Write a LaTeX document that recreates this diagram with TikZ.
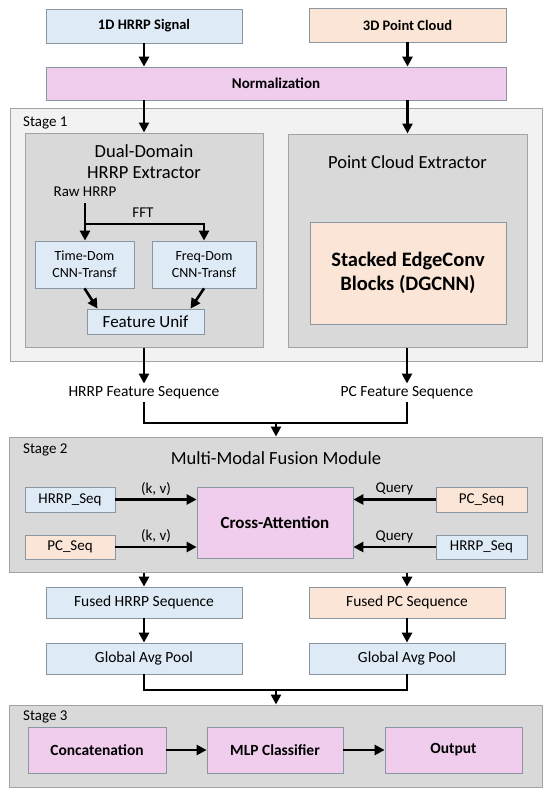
\documentclass[tikz,border=0pt]{standalone}
\usepackage{fontspec}
\setmainfont{Carlito}
\usetikzlibrary{arrows.meta,calc}
\definecolor{cblue}{HTML}{DEEBF7}
\definecolor{cpeach}{HTML}{FBE5D6}
\definecolor{cpink}{HTML}{F0CDEC}
\definecolor{cborder}{HTML}{8A97A3}
\definecolor{sborder}{HTML}{A3A3A3}
\definecolor{slight}{HTML}{F2F2F2}
\definecolor{sdark}{HTML}{D9D9D9}
\newcommand{\fs}[1]{\fontsize{#1}{\fpeval{#1*1.2}}\selectfont}
\tikzset{
  bx/.style={draw=cborder, line width=0.8pt, inner sep=0pt, align=center, font=\fs{15}},
  bluebox/.style={bx, fill=cblue},
  peachbox/.style={bx, fill=cpeach},
  pinkbox/.style={bx, fill=cpink},
  stagebox/.style={draw=sborder, line width=1pt, fill=sdark, inner sep=0pt},
  lbl/.style={inner sep=0pt, font=\fs{15}},
  lnk/.style={line width=2.6pt, line join=miter},
  arr/.style={lnk, -{Triangle[width=10pt,length=10pt]}}
}
\begin{document}
\begin{tikzpicture}[x=1pt,y=-1pt]
\useasboundingbox (0,0) rectangle (550,796);
% stage boxes
\node[stagebox, fill=slight, minimum width=532pt, minimum height=253pt] (stage1) at (276,234.5) {};
\node[lbl, anchor=west] (s1lbl) at (23,123) {Stage 1};
\node[stagebox, minimum width=238pt, minimum height=214pt] (dual) at (144,240) {};
\node[stagebox, minimum width=239pt, minimum height=213pt] (pcext) at (407.5,240.5) {};
\node[stagebox, minimum width=533pt, minimum height=135pt] (stage2) at (275.5,504.5) {};
\node[lbl, anchor=west] (s2lbl) at (23,450) {Stage 2};
\node[stagebox, minimum width=533pt, minimum height=82pt] (stage3) at (275.5,746) {};
\node[lbl, anchor=west] (s3lbl) at (23,717) {Stage 3};

% top
\node[bluebox, font=\fs{14.5}\bfseries, minimum width=196pt, minimum height=34pt] (hrrp) at (144,26) {1D HRRP Signal};
\node[peachbox, font=\fs{14.5}\bfseries, minimum width=197pt, minimum height=34pt] (pc) at (407.5,25) {3D Point Cloud};
\node[pinkbox, font=\fs{15}\bfseries, minimum width=460pt, minimum height=33pt] (norm) at (276,83.5) {Normalization};

% stage 1 content
\node[lbl, font=\fs{18.5}] (dt1) at (144,151) {Dual-Domain};
\node[lbl, font=\fs{18.5}] (dt2) at (144,173) {HRRP Extractor};
\node[lbl, font=\fs{15}] (raw) at (85,192) {Raw HRRP};
\coordinate (split) at (85,224);
\node[lbl, font=\fs{15}] (fft) at (143,213) {FFT};
\node[bluebox, font=\fs{14}, minimum width=99pt, minimum height=47pt] (time) at (84.5,264.5) {Time-Dom\\CNN-Transf};
\node[bluebox, font=\fs{14}, minimum width=104pt, minimum height=47pt] (freq) at (204,264.5) {Freq-Dom\\CNN-Transf};
\node[bluebox, font=\fs{17}, minimum width=117pt, minimum height=25pt] (unif) at (145.5,321.5) {Feature Unif};
\node[lbl, font=\fs{18.5}] (pct) at (407.5,162) {Point Cloud Extractor};
\node[peachbox, font=\fs{20.5}\bfseries, minimum width=196pt, minimum height=102pt] (stack) at (408,273) {Stacked EdgeConv\\Blocks (DGCNN)};

% feature sequences
\node[lbl, inner sep=3pt, font=\fs{15.5}] (hfs) at (144,393) {HRRP Feature Sequence};
\node[lbl, inner sep=3pt, font=\fs{15.5}] (pfs) at (407,393) {PC Feature Sequence};
\coordinate (merge1) at (276,423);

% stage 2 content
\node[lbl, font=\fs{18.5}] (fusion) at (276,458) {Multi-Modal Fusion Module};
\node[bluebox, minimum width=90pt, minimum height=25pt] (hseqL) at (70,499.5) {HRRP\_Seq};
\node[peachbox, minimum width=90pt, minimum height=24pt] (pseqL) at (70,547) {PC\_Seq};
\node[pinkbox, font=\fs{17}\bfseries, minimum width=156pt, minimum height=71pt] (cross) at (275,522.5) {Cross-Attention};
\node[peachbox, minimum width=91pt, minimum height=25pt] (pseqR) at (481.5,499.5) {PC\_Seq};
\node[bluebox, minimum width=91pt, minimum height=24pt] (hseqR) at (481.5,547) {HRRP\_Seq};

% after stage 2
\node[bluebox, font=\fs{15.5}, minimum width=196pt, minimum height=31pt] (fh) at (144,602.5) {Fused HRRP Sequence};
\node[peachbox, font=\fs{15.5}, minimum width=196pt, minimum height=31pt] (fp) at (407,602.5) {Fused PC Sequence};
\node[bluebox, font=\fs{15.5}, minimum width=196pt, minimum height=31pt] (gl) at (144,658.5) {Global Avg Pool};
\node[bluebox, font=\fs{15.5}, minimum width=196pt, minimum height=31pt] (gr) at (407,658.5) {Global Avg Pool};
\coordinate (merge2) at (276,690);

% stage 3
\node[pinkbox, font=\fs{15.5}\bfseries, minimum width=138pt, minimum height=46pt] (concat) at (97,750) {Concatenation};
\node[pinkbox, font=\fs{15.5}\bfseries, minimum width=136pt, minimum height=46pt] (mlp) at (275,750) {MLP Classifier};
\node[pinkbox, font=\fs{15.5}\bfseries, minimum width=137pt, minimum height=46pt] (out) at (453.5,750) {Output};

% connectors
\draw[arr] (hrrp.south) -- (hrrp.south |- norm.north);
\draw[arr] (pc.south -| pcext.north) -- (pcext.north |- norm.north);
\draw[arr] (dual.north |- norm.south) -- (dual.north);
\draw[arr] (pcext.north |- norm.south) -- (pcext.north);

\draw[lnk] ([yshift=-6pt]raw.south) -- (split);
\draw[arr] (split) -- (split |- time.north);
\draw[arr] (split) -| (freq.north);
\draw[arr] ([xshift=0pt]time.south) -- ([xshift=-48pt]unif.north);
\draw[arr] ([xshift=0pt]freq.south) -- ([xshift=45pt]unif.north);

\draw[arr] (dual.south) -- (hfs.north);
\draw[arr] (pcext.south -| pfs.north) -- (pfs.north);
\draw[lnk] (hfs.south) |- (merge1);
\draw[lnk] (pfs.south) |- (merge1);
\draw[arr] ([yshift=1.3pt]merge1) -- (merge1 |- stage2.north);

\draw[arr] (hseqL.east) -- (cross.west |- hseqL.east) node[midway, above=3pt, lbl] (kv1) {(k, v)};
\draw[arr] (pseqL.east) -- (cross.west |- pseqL.east) node[midway, above=3pt, lbl] (kv2) {(k, v)};
\draw[arr] (pseqR.west) -- (cross.east |- pseqR.west) node[midway, above=3pt, lbl] (q1) {Query};
\draw[arr] (hseqR.west) -- (cross.east |- hseqR.west) node[midway, above=3pt, lbl] (q2) {Query};

\draw[arr] (fh.north |- stage2.south) -- (fh.north);
\draw[arr] (fp.north |- stage2.south) -- (fp.north);
\draw[arr] (fh.south) -- (gl.north);
\draw[arr] (fp.south) -- (gr.north);
\draw[lnk] (gl.south) |- (merge2);
\draw[lnk] (gr.south) |- (merge2);
\draw[arr] ([yshift=1.3pt]merge2) -- (merge2 |- stage3.north);

\draw[arr] (concat.east) -- (mlp.west);
\draw[arr] (mlp.east) -- (out.west);
\end{tikzpicture}
\end{document}
